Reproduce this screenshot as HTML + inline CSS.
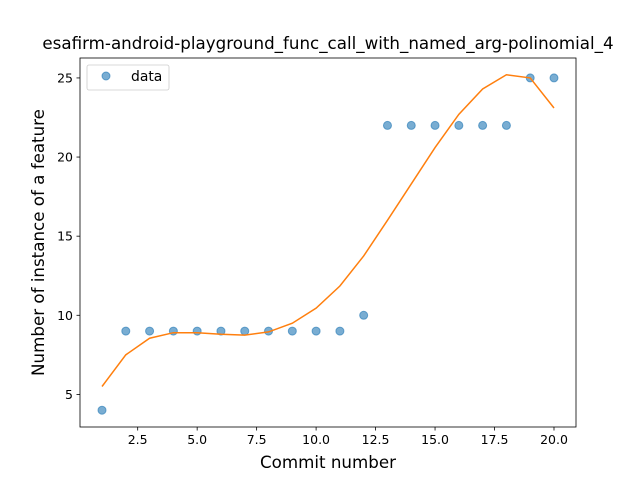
<!DOCTYPE html>
<html><head><meta charset="utf-8"><style>
body{margin:0;background:#fff;}
text{font-family:"DejaVu Sans","Liberation Sans",sans-serif;}
</style></head><body>
<svg id="chart" width="640" height="480" xmlns="http://www.w3.org/2000/svg">
<rect width="640" height="480" fill="#fff"/>
<text x="328" y="49" text-anchor="middle" font-size="16.7">esafirm-android-playground_func_call_with_named_arg-polinomial_4</text>
<g id="plot"></g>
<rect x="80" y="58" width="496" height="369" fill="none" stroke="#000" stroke-width="0.8"/>
<text x="328" y="468" text-anchor="middle" font-size="16.7">Commit number</text>
<text transform="translate(44,242.5) rotate(-90)" text-anchor="middle" font-size="16.7">Number of instance of a feature</text>
<g>
<rect x="87" y="65" width="82" height="25" rx="2" fill="#fff" fill-opacity="0.8" stroke="#ccc" stroke-width="0.8"/>
<circle cx="106" cy="76" r="4" fill="#1f77b4" fill-opacity="0.6" stroke="#1f77b4" stroke-opacity="0.6"/>
<text x="131" y="81" font-size="13.9">data</text>
</g>
</svg>
<script>
const xs = [1,2,3,4,5,6,7,8,9,10,11,12,13,14,15,16,17,18,19,20];
const dataVals = [4,9,9,9,9,9,9,9,9,9,9,10,22,22,22,22,22,22,25,25];
const fitVals = [5.5,7.5,8.55,8.9,8.9,8.8,8.75,8.95,9.5,10.45,11.85,13.75,16,18.3,20.6,22.7,24.3,25.2,25.0,23.1];
const xTicks = [2.5,5.0,7.5,10.0,12.5,15.0,17.5,20.0];
const yTicks = [5,10,15,20,25];
const xMin=0.075, xMax=20.925, yMin=2.94, yMax=26.26;
const L=80,R=576,T=58,B=427;
const sx=v=>L+(v-xMin)/(xMax-xMin)*(R-L);
const sy=v=>B-(v-yMin)/(yMax-yMin)*(B-T);
const NS="http://www.w3.org/2000/svg";
const g=document.getElementById('plot');
function mk(t,a){const e=document.createElementNS(NS,t);for(const k in a)e.setAttribute(k,a[k]);g.appendChild(e);return e;}
xTicks.forEach(v=>{
  const l=mk('line',{x1:sx(v),x2:sx(v),y1:B,y2:B+3.5,stroke:'#000','stroke-width':0.8});
  
  
  const t=mk('text',{x:sx(v),y:B+17,'text-anchor':'middle','font-size':12.5});
  t.textContent=v.toFixed(1);
  
  
});
yTicks.forEach(v=>{
  const l=mk('line',{x1:L-3.5,x2:L,y1:sy(v),y2:sy(v),stroke:'#000','stroke-width':0.8});
  
  
  const t=mk('text',{x:L-7,y:sy(v)+4.5,'text-anchor':'end','font-size':12.5});
  t.textContent=v;
  
  
});
xs.forEach((x,i)=>{
  const c=mk('circle',{cx:sx(x),cy:sy(dataVals[i]),r:4,fill:'#1f77b4','fill-opacity':0.6,stroke:'#1f77b4','stroke-opacity':0.6});
  
  
});
const p=mk('polyline',{points:xs.map((x,i)=>sx(x)+','+sy(fitVals[i])).join(' '),fill:'none',stroke:'#ff7f0e','stroke-width':1.5});


</script>
</body></html>
